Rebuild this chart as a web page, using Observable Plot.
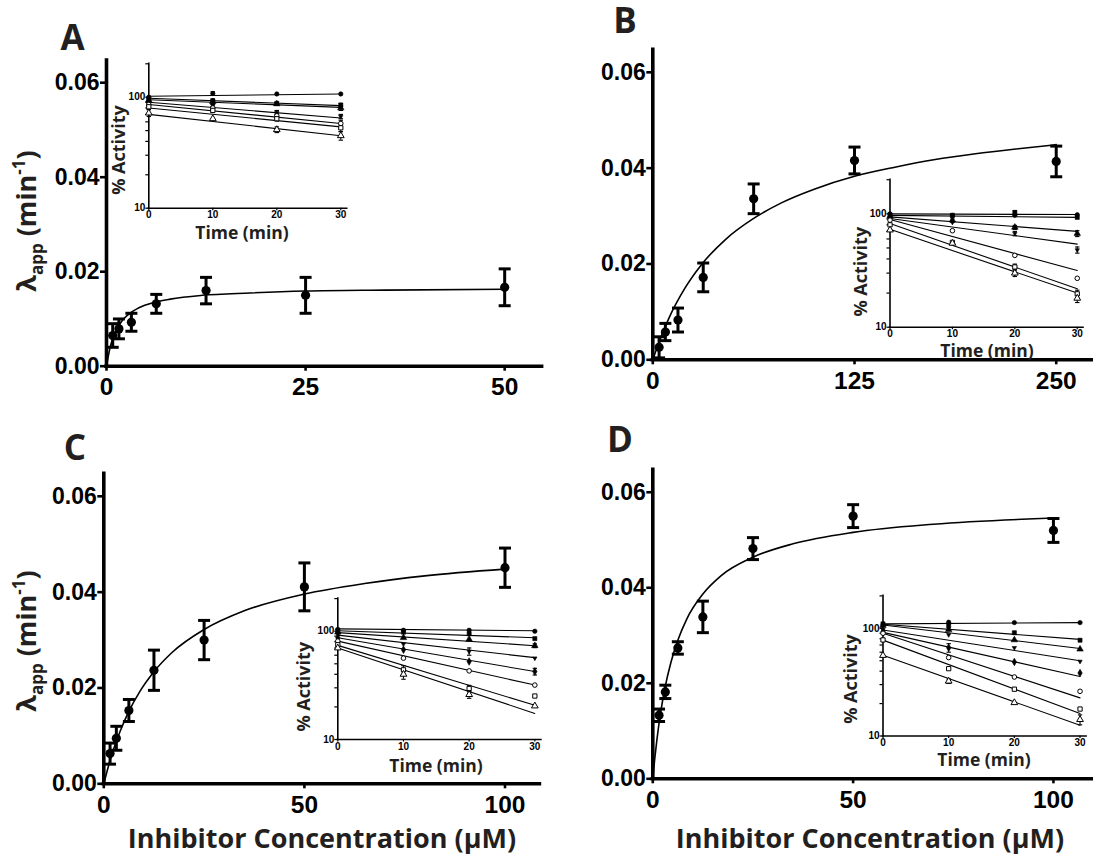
<!DOCTYPE html>
<html>
<head>
<meta charset="utf-8">
<script src="https://cdn.jsdelivr.net/npm/d3@7"></script>
<script src="https://cdn.jsdelivr.net/npm/@observablehq/plot@0.6"></script>
<style>
  body { margin: 0; background: #fff; }
  #fig { position: relative; width: 1093px; height: 862px; overflow: hidden; background: #fff; }
  #fig svg { position: absolute; }
</style>
</head>
<body>
<div id="fig"></div>
<script>
// ---------- shared tick values ----------
const yTicks = [0, 0.02, 0.04, 0.06];
const xTicksA = [0, 25, 50];
const xTicksB = [0, 125, 250];
const xTicksCD = [0, 50, 100];
const insetTimeTicks = [0, 10, 20, 30];
const insetActivityTicks = [10, 20, 30, 40, 50, 60, 70, 80, 90, 100, 200];
const insetActivityLabels = [10, 100];
const sampleTimes = [0, 10, 20, 30];
const fitTimes = [0, 30];

// ---------- panel A: kobs vs inhibitor ----------
const concA = [0.78, 1.56, 3.125, 6.25, 12.5, 25, 50];
const rateA = [0.0065, 0.0079, 0.0093, 0.0132, 0.0160, 0.0150, 0.0167];
const semA  = [0.0025, 0.0021, 0.0019, 0.0020, 0.0028, 0.0038, 0.0039];
const fitConcA = [0, 0.5, 1, 2, 3, 4, 6, 8, 12, 18, 25, 35, 50];
const fitRateA = [0, 0.0043, 0.0068, 0.0097, 0.0113, 0.0123, 0.0135, 0.0142, 0.0150, 0.0155, 0.0159, 0.0161, 0.0163];
// inset A: % activity at 0/10/20/30 min, one row per concentration
const activityA = [
  [100, 108, 107, 107],
  [97, 93, 88, 85],
  [94, 91, 87, 80],
  [90, 84, 73, 67],
  [86, 80, 68, 58],
  [82, 76, 64, 53],
  [72, 64, 51, 45]
];
const activityErrA = [
  [0, 4, 0, 0],
  [0, 3, 2, 3],
  [3, 3, 2, 4],
  [3, 2, 3, 3],
  [3, 2, 3, 4],
  [4, 3, 3, 4],
  [5, 0, 3, 4]
];
const fitActivityA = [[102, 107], [98, 84], [95, 81], [90, 65], [86, 58], [80, 54], [70, 45]];

// ---------- panel B ----------
const concB = [3.9, 7.8, 15.6, 31.25, 62.5, 125, 250];
const rateB = [0.0026, 0.0058, 0.0083, 0.0172, 0.0336, 0.0416, 0.0414];
const semB  = [0.0022, 0.0018, 0.0025, 0.0030, 0.0031, 0.0028, 0.0032];
const fitConcB = [0, 5, 10, 20, 30, 45, 62.5, 80, 100, 125, 150, 175, 200, 225, 250];
const fitRateB = [0, 0.0047, 0.0087, 0.0150, 0.0198, 0.0251, 0.0295, 0.0328, 0.0356, 0.0383, 0.0402, 0.0418, 0.0430, 0.0440, 0.0449];
const activityB = [
  [100, 97, 97, 98],
  [98, 97, 103, 93],
  [95, 88, 76, 67],
  [92, 84, 67, 48],
  [88, 71, 43, 27],
  [80, 56, 34, 19.7],
  [72, 55, 30, 18]
];
const activityErrB = [
  [0, 0, 0, 0],
  [0, 0, 3, 0],
  [0, 4, 3, 4],
  [0, 0, 3, 3],
  [0, 0, 0, 0],
  [0, 0, 2, 1.5],
  [0, 0, 2, 1.5]
];
const fitActivityB = [[100, 98.5], [97, 93], [94, 70], [91, 54], [89, 31.6], [82, 21.8], [73, 20]];

// ---------- panel C ----------
const concC = [1.56, 3.125, 6.25, 12.5, 25, 50, 100];
const rateC = [0.0063, 0.0095, 0.0153, 0.0237, 0.0300, 0.0411, 0.0451];
const semC  = [0.0022, 0.0025, 0.0023, 0.0042, 0.0041, 0.0050, 0.0041];
const fitConcC = [0, 1, 2, 4, 6, 9, 12.5, 17, 25, 35, 50, 65, 80, 100];
const fitRateC = [0, 0.0032, 0.0061, 0.0108, 0.0147, 0.0193, 0.0234, 0.0274, 0.0322, 0.0361, 0.0396, 0.0418, 0.0434, 0.0448];
const activityC = [
  [104, 102, 102, 100],
  [101, 98, 94.5, 85.4],
  [98, 87, 84, 73.5],
  [93, 76, 65, 56.4],
  [87, 67.5, 52.5, 42.4],
  [81, 56.4, 43, 31.8],
  [75, 44, 29.6, 25.2],
  [70, 40, 26, 20.4]
];
const activityErrC = [
  [0, 0, 0, 0],
  [0, 0, 0, 0],
  [0, 0, 0, 3],
  [0, 0, 5, 0],
  [0, 0, 0, 3],
  [0, 0, 0, 0],
  [0, 4, 2, 0],
  [0, 4, 2, 0]
];
const fitActivityC = [[105, 101], [101, 87], [97, 73.5], [92, 57], [87, 42.4], [81, 31.8], [74, 20.7], [70, 17.4]];

// ---------- panel D ----------
const concD = [1.56, 3.125, 6.25, 12.5, 25, 50, 100];
const rateD = [0.0133, 0.0182, 0.0274, 0.0339, 0.0482, 0.0550, 0.0520];
const semD  = [0.0013, 0.0014, 0.0013, 0.0033, 0.0023, 0.0024, 0.0025];
const fitConcD = [0, 0.5, 1, 2, 3, 4.5, 6.25, 8.5, 12.5, 17, 25, 35, 50, 70, 100];
const fitRateD = [0, 0.0043, 0.0080, 0.0141, 0.0189, 0.0243, 0.0290, 0.0335, 0.0387, 0.0425, 0.0464, 0.0492, 0.0516, 0.0533, 0.0546];
const activityD = [
  [108, 114, 113, 113],
  [110, 105, 91, 77.5],
  [106, 97, 78, 64],
  [97, 87, 66, 49.3],
  [93, 66, 48.7, 38.4],
  [90, 53.5, 35.3, 26],
  [78, 42.2, 27.2, 17.8],
  [56, 32.3, 20.4, 14.2]
];
const activityErrD = [
  [0, 0, 0, 0],
  [0, 0, 0, 0],
  [0, 0, 0, 0],
  [0, 0, 0, 0],
  [0, 6, 0, 0],
  [0, 0, 0, 0],
  [0, 0, 0, 0],
  [0, 1.5, 0, 1.5]
];
const fitActivityD = [[110, 113], [109, 79], [107.5, 65], [96.5, 50], [91.7, 35.7], [89.8, 22.6], [77.7, 16.2], [56.2, 12.6]];

// ---------- styling ----------
const INK = "#231f20";
const TICK_FONT = "'Liberation Sans', Arial, Helvetica, sans-serif";
const TITLE_FONT = "'Open Sans', 'Noto Sans', sans-serif";
const Y_MAX = 0.0647;

// horizontal bar used for error-bar caps
const capBar = {
  draw(ctx, size) {
    const r = Math.sqrt(size / Math.PI);
    ctx.moveTo(-r, 0);
    ctx.lineTo(r, 0);
  }
};
// downward-pointing triangle
const triDown = {
  draw(ctx, size) {
    const r = Math.sqrt(size / Math.PI) * 1.25;
    ctx.moveTo(0, r);
    ctx.lineTo(r * 0.87, -r * 0.5);
    ctx.lineTo(-r * 0.87, -r * 0.5);
    ctx.closePath();
  }
};
// marker look for each concentration series (Prism-style order)
const markerStyles = [
  {symbol: "circle", open: false, r: 2.2},
  {symbol: "square", open: false, r: 2.3},
  {symbol: "triangle", open: false, r: 2.4},
  {symbol: triDown, open: false, r: 2.0},
  {symbol: "diamond", open: false, r: 2.3},
  {symbol: "circle", open: true, r: 2.3},
  {symbol: "square", open: true, r: 2.4},
  {symbol: "triangle", open: true, r: 2.5}
];

const fig = document.getElementById("fig");

function place(svg, box) {
  svg.style.position = "absolute";
  svg.style.left = box[0] + "px";
  svg.style.top = box[1] + "px";
  svg.style.background = "transparent";
  svg.style.overflow = "visible";
  fig.appendChild(svg);
}

function mainPanel(p) {
  const pts = p.conc.map((c, i) => ({c, r: p.rate[i], e: p.sem[i]}));
  const fit = p.fitX.map((c, i) => ({c, r: p.fitY[i]}));
  const axisLine = {stroke: "black", strokeWidth: 3.6, strokeLinecap: "square"};
  const svg = Plot.plot({
    width: p.box[2],
    height: p.box[3],
    marginLeft: p.m.l,
    marginTop: p.m.t,
    marginRight: p.m.r,
    marginBottom: p.m.b,
    x: {domain: [0, p.xMax], label: null},
    y: {domain: [0, Y_MAX], label: null},
    style: {background: "transparent", color: "black"},
    marks: [
      Plot.axisY({ticks: yTicks, tickFormat: d3.format(".2f"), tickSize: 6, tickPadding: 1,
        fontSize: 23, fontWeight: "bold", fontFamily: TICK_FONT, fill: "black", strokeWidth: 2.6, label: null}),
      Plot.axisX({ticks: p.xTicks, tickFormat: d => String(d), tickSize: 5, tickPadding: 6.5,
        fontSize: 24.5, fontWeight: "bold", fontFamily: TICK_FONT, fill: "black", strokeWidth: 2.6, label: null}),
      Plot.ruleX([0], axisLine),
      Plot.ruleY([0], axisLine),
      Plot.line(fit, {x: "c", y: "r", curve: "monotone-x", stroke: "black", strokeWidth: 1.6}),
      Plot.ruleX(pts, {x: "c", y1: d => d.r - d.e, y2: d => d.r + d.e, stroke: "black", strokeWidth: 3}),
      Plot.dot(pts, {x: "c", y: d => d.r - d.e, symbol: capBar, r: 6, fill: "none", stroke: "black", strokeWidth: 3}),
      Plot.dot(pts, {x: "c", y: d => d.r + d.e, symbol: capBar, r: 6, fill: "none", stroke: "black", strokeWidth: 3}),
      Plot.dot(pts, {x: "c", y: "r", r: 4.6, fill: "black", stroke: "none"})
    ]
  });
  place(svg, p.box);
  const s = d3.select(svg);
  // panel letter
  s.append("text")
    .attr("x", p.letterAt[0]).attr("y", p.letterAt[1])
    .attr("font-family", TITLE_FONT).attr("font-weight", 700).attr("font-size", 35)
    .attr("fill", INK).text(p.letter);
  // y-axis title with subscript and superscript
  if (p.yTitleAt) {
    const t = s.append("text")
      .attr("transform", `translate(${p.yTitleAt[0]},${p.yTitleAt[1]}) rotate(-90)`)
      .attr("text-anchor", "middle")
      .attr("font-family", TITLE_FONT).attr("font-weight", 700).attr("font-size", 27)
      .attr("fill", INK);
    t.append("tspan").text("λ");
    t.append("tspan").attr("font-size", 17).attr("dy", 7).text("app");
    t.append("tspan").attr("dy", -7).text(" (min");
    t.append("tspan").attr("font-size", 17).attr("dy", -11).text("-1");
    t.append("tspan").attr("dy", 11).text(")");
  }
  // x-axis title
  if (p.xTitleAt) {
    s.append("text")
      .attr("x", p.xTitleAt[0]).attr("y", p.xTitleAt[1])
      .attr("text-anchor", "middle")
      .attr("font-family", TITLE_FONT).attr("font-weight", 700).attr("font-size", 27)
      .attr("fill", INK).text("Inhibitor Concentration (µM)");
  }
}

function insetPanel(q) {
  const points = [], errs = [], fits = [];
  q.activity.forEach((row, s) => {
    row.forEach((v, j) => {
      points.push({s, t: sampleTimes[j], v});
      const e = q.err[s][j];
      if (e > 0) errs.push({s, t: sampleTimes[j], v, e});
    });
    q.fit[s].forEach((v, j) => fits.push({s, t: fitTimes[j], v}));
  });
  const axisLine = {stroke: "black", strokeWidth: 1.6, strokeLinecap: "square"};
  const seriesMarks = q.activity.map((row, s) => {
    const st = markerStyles[q.styles[s]];
    return Plot.dot(points.filter(d => d.s === s), {
      x: "t", y: "v", symbol: st.symbol, r: st.r,
      fill: st.open ? "white" : "black", stroke: "black", strokeWidth: st.open ? 1 : 0.6
    });
  });
  const svg = Plot.plot({
    width: q.box[2],
    height: q.box[3],
    marginLeft: q.m.l,
    marginTop: q.m.t,
    marginRight: q.m.r,
    marginBottom: q.m.b,
    x: {domain: [0, 31], label: null},
    y: {type: "log", domain: [10, 200], label: null},
    style: {background: "transparent", color: "black"},
    marks: [
      Plot.axisY({ticks: insetActivityTicks, tickFormat: d => insetActivityLabels.includes(d) ? String(d) : "",
        tickSize: 3, tickPadding: 0.5, fontSize: 10, fontWeight: "bold", fontFamily: TICK_FONT,
        fill: "black", strokeWidth: 1.2, label: null}),
      Plot.axisX({ticks: insetTimeTicks, tickFormat: d => String(d), tickSize: 2.5, tickPadding: 0.5,
        fontSize: 10, fontWeight: "bold", fontFamily: TICK_FONT, fill: "black", strokeWidth: 1.2, label: null}),
      Plot.ruleX([0], axisLine),
      Plot.ruleY([10], axisLine),
      Plot.line(fits, {x: "t", y: "v", z: "s", stroke: "black", strokeWidth: 1.1}),
      Plot.ruleX(errs, {x: "t", y1: d => d.v - d.e, y2: d => d.v + d.e, stroke: "black", strokeWidth: 1.1}),
      Plot.dot(errs, {x: "t", y: d => d.v - d.e, symbol: capBar, r: 2.2, fill: "none", stroke: "black", strokeWidth: 1.1}),
      Plot.dot(errs, {x: "t", y: d => d.v + d.e, symbol: capBar, r: 2.2, fill: "none", stroke: "black", strokeWidth: 1.1}),
      ...seriesMarks
    ]
  });
  place(svg, q.box);
  const s = d3.select(svg);
  s.append("text")
    .attr("transform", `translate(${q.activityAt[0]},${q.activityAt[1]}) rotate(-90)`)
    .attr("text-anchor", "middle")
    .attr("font-family", TITLE_FONT).attr("font-weight", 700).attr("font-size", 18)
    .attr("fill", INK).text("% Activity");
  s.append("text")
    .attr("x", q.timeAt[0]).attr("y", q.timeAt[1])
    .attr("text-anchor", "middle")
    .attr("font-family", TITLE_FONT).attr("font-weight", 700).attr("font-size", 17.5)
    .attr("fill", INK).text("Time (min)");
}

// ---------- layout ----------
mainPanel({
  box: [0, 0, 546, 420], m: {l: 106, t: 60, r: 4.4, b: 54.3}, xMax: 54.7, xTicks: xTicksA,
  conc: concA, rate: rateA, sem: semA, fitX: fitConcA, fitY: fitRateA,
  letter: "A", letterAt: [72.7, 50], yTitleAt: [35.5, 221]
});
mainPanel({
  box: [546, 0, 547, 420], m: {l: 106.3, t: 49.3, r: 0, b: 60.7}, xMax: 273.1, xTicks: xTicksB,
  conc: concB, rate: rateB, sem: semB, fitX: fitConcB, fitY: fitRateB,
  letter: "B", letterAt: [79, 33]
});
mainPanel({
  box: [0, 420, 546, 442], m: {l: 103.3, t: 53.3, r: 6.6, b: 78.7}, xMax: 108.7, xTicks: xTicksCD,
  conc: concC, rate: rateC, sem: semC, fitX: fitConcC, fitY: fitRateC,
  letter: "C", letterAt: [75, 40], yTitleAt: [35.5, 221], xTitleAt: [322, 428]
});
mainPanel({
  box: [546, 420, 547, 442], m: {l: 106.3, t: 49.3, r: 0, b: 83.7}, xMax: 110, xTicks: xTicksCD,
  conc: concD, rate: rateD, sem: semD, fitX: fitConcD, fitY: fitRateD,
  letter: "D", letterAt: [74, 31.7], xTitleAt: [324, 428]
});

insetPanel({
  box: [100, 55, 255, 185], m: {l: 48.3, t: 8.3, r: 8.3, b: 32.3},
  activity: activityA, err: activityErrA, fit: fitActivityA, styles: [0, 1, 2, 3, 5, 6, 7],
  activityAt: [25, 95], timeAt: [142, 183.5]
});
insetPanel({
  box: [840, 172, 253, 190], m: {l: 49.5, t: 7.2, r: 10, b: 35.3},
  activity: activityB, err: activityErrB, fit: fitActivityB, styles: [0, 1, 2, 3, 5, 6, 7],
  activityAt: [27, 99.7], timeAt: [147, 185]
});
insetPanel({
  box: [290, 590, 256, 190], m: {l: 47.3, t: 8.1, r: 5.1, b: 41},
  activity: activityC, err: activityErrC, fit: fitActivityC, styles: [0, 1, 2, 3, 4, 5, 6, 7],
  activityAt: [20, 96.7], timeAt: [146, 182]
});
insetPanel({
  box: [835, 585, 258, 190], m: {l: 47.5, t: 10.4, r: 6.9, b: 39.5},
  activity: activityD, err: activityErrD, fit: fitActivityD, styles: [0, 1, 2, 3, 4, 5, 6, 7],
  activityAt: [22, 94], timeAt: [149, 181]
});
</script>
</body>
</html>
